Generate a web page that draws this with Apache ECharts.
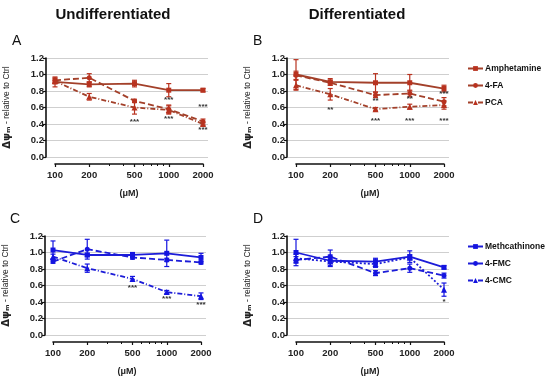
<!DOCTYPE html>
<html><head><meta charset="utf-8">
<script src="https://cdn.jsdelivr.net/npm/echarts@6/dist/echarts.min.js"></script>
<style>html,body{margin:0;padding:0;background:#fff}#c{width:550px;height:380px}</style>
</head><body><div id="c"></div>
<script>
// ---- data ----
const concentrations = [100, 200, 500, 1000, 2000];
const minorTicks = [300, 400, 600, 700, 800, 900];
const yTicks = [0, 0.2, 0.4, 0.6, 0.8, 1.0, 1.2];
const groupAmph = ['Amphetamine', '4-FA', 'PCA'];
const groupCath = ['Methcathinone', '4-FMC', '4-CMC'];

// Panel A (undifferentiated, amphetamines)
const A_amph = [0.91, 0.88, 0.89, 0.81, 0.81];
const A_4fa  = [0.93, 0.96, 0.68, 0.58, 0.43];
const A_pca  = [0.92, 0.73, 0.60, 0.57, 0.40];
const A_amph_err = [0.06, 0.03, 0.04, 0.08, 0.02];
const A_4fa_err  = [0.03, 0.05, 0.02, 0.05, 0.03];
const A_pca_err  = [0.03, 0.04, 0.08, 0.05, 0.02];
const A_stars = [[500, 0.43, '***'], [1000, 0.69, '***'], [1000, 0.46, '***'], [2000, 0.61, '***'], [2000, 0.33, '***']];

// Panel B (differentiated, amphetamines)
const B_amph = [1.00, 0.91, 0.90, 0.90, 0.83];
const B_4fa  = [0.99, 0.90, 0.75, 0.77, 0.67];
const B_pca  = [0.87, 0.76, 0.58, 0.61, 0.63];
const B_amph_err = [0.18, 0.04, 0.11, 0.10, 0.04];
const B_4fa_err  = [0.05, 0.03, 0.03, 0.04, 0.05];
const B_pca_err  = [0.06, 0.07, 0.02, 0.03, 0.05];
const B_stars = [[200, 0.57, '**'], [500, 0.68, '**'], [1000, 0.70, '**'], [500, 0.44, '***'], [1000, 0.44, '***'], [2000, 0.77, '***'], [2000, 0.44, '***']];

// Panel C (undifferentiated, cathinones)
const C_meth = [1.03, 0.97, 0.97, 0.99, 0.94];
const C_4fmc = [0.89, 1.04, 0.94, 0.91, 0.88];
const C_4cmc = [0.95, 0.81, 0.68, 0.52, 0.47];
const C_meth_err = [0.11, 0.02, 0.03, 0.16, 0.05];
const C_4fmc_err = [0.02, 0.12, 0.02, 0.02, 0.02];
const C_4cmc_err = [0.03, 0.05, 0.03, 0.02, 0.04];
const C_stars = [[500, 0.57, '***'], [1000, 0.44, '***'], [2000, 0.37, '***']];

// Panel D (differentiated, cathinones)
const D_meth = [1.00, 0.90, 0.89, 0.95, 0.82];
const D_4fmc = [0.91, 0.95, 0.75, 0.81, 0.72];
const D_4cmc = [0.93, 0.89, 0.86, 0.94, 0.55];
const D_meth_err = [0.16, 0.07, 0.04, 0.07, 0.02];
const D_4fmc_err = [0.04, 0.08, 0.03, 0.05, 0.03];
const D_4cmc_err = [0.05, 0.05, 0.04, 0.03, 0.08];
const D_stars = [[2000, 0.40, '*']];

// ---- styling ----
const BROWN = '#a3402a', BROWN_M = '#b8321f';
const BLUE = '#1c1cd8', BLUE_M = '#1414e0';
const FONT = 'Liberation Sans, Arial, Helvetica, sans-serif';

const panels = [
  {letter: 'A', dx: 0,   dy: 0,   names: groupAmph, vals: [A_amph, A_4fa, A_pca], errs: [A_amph_err, A_4fa_err, A_pca_err], stars: A_stars, line: BROWN, mark: BROWN_M, dash3: [5, 2, 1, 2]},
  {letter: 'B', dx: 241, dy: 0,   names: groupAmph, vals: [B_amph, B_4fa, B_pca], errs: [B_amph_err, B_4fa_err, B_pca_err], stars: B_stars, line: BROWN, mark: BROWN_M, dash3: [5, 2, 1, 2]},
  {letter: 'C', dx: -2,  dy: 178, names: groupCath, vals: [C_meth, C_4fmc, C_4cmc], errs: [C_meth_err, C_4fmc_err, C_4cmc_err], stars: C_stars, line: BLUE, mark: BLUE_M, dash3: [5, 2, 1, 2]},
  {letter: 'D', dx: 241, dy: 178, names: groupCath, vals: [D_meth, D_4fmc, D_4cmc], errs: [D_meth_err, D_4fmc_err, D_4cmc_err], stars: D_stars, line: BLUE, mark: BLUE_M, dash3: [2, 2]}
];
const symbols = ['rect', 'circle', 'triangle'];
const symSizes = [5, 5, 6];
const dashTypes = ['solid', [6, 3], null];

const grid = [], xAxis = [], yAxis = [], series = [], graphic = [];

panels.forEach((p, i) => {
  const top = 58 + p.dy, h = 99;
  grid.push({left: 46 + p.dx, top: top, width: 162, height: h});
  grid.push({left: 55 + p.dx, top: top, width: 148, height: h});
  const gDisp = 2 * i, gData = 2 * i + 1;
  // display x (hidden)
  xAxis.push({type: 'value', gridIndex: gDisp, show: false, min: 0, max: 1});
  // data x (log)
  xAxis.push({
    type: 'log', logBase: 10, gridIndex: gData, position: 'bottom', min: 100, max: 2000, offset: 7,
    axisLine: {show: true, onZero: false, lineStyle: {color: '#111', width: 1.6}},
    axisTick: {show: true, length: 3, customValues: concentrations, lineStyle: {color: '#111', width: 1.2}},
    axisLabel: {show: true, customValues: concentrations, margin: 6, fontSize: 9.5, fontWeight: 'bold', color: '#222', fontFamily: FONT, formatter: v => String(Math.round(v))},
    splitLine: {show: false}, minorTick: {show: false},
    name: '(μM)', nameLocation: 'middle', nameGap: 25,
    nameTextStyle: {fontSize: 9, fontWeight: 'bold', color: '#222', fontFamily: FONT},
    z: 10
  });
  // minor ticks
  xAxis.push({
    type: 'log', logBase: 10, gridIndex: gData, position: 'bottom', min: 100, max: 2000, offset: 7,
    axisLine: {show: false, onZero: false},
    axisTick: {show: true, length: 2, customValues: minorTicks, lineStyle: {color: '#111', width: 1}},
    axisLabel: {show: false}, splitLine: {show: false}
  });
  yAxis.push({
    type: 'value', gridIndex: gDisp, min: 0, max: 1.2, interval: 0.2,
    axisLine: {show: true, onZero: false, lineStyle: {color: '#111', width: 1.6}},
    axisTick: {show: true, length: 3, lineStyle: {color: '#111', width: 1.2}},
    axisLabel: {margin: 2, fontSize: 9.5, fontWeight: 'bold', color: '#222', fontFamily: FONT, formatter: v => v.toFixed(1)},
    splitLine: {show: true, lineStyle: {color: '#cfcfcf', width: 1}},
    name: '{a|Δψₘ}{c| - relative to Ctrl}', nameLocation: 'middle', nameRotate: 90, nameGap: 34,
    nameTextStyle: {rich: {a: {fontSize: 10, fontWeight: 'bold', color: '#222', fontFamily: 'DejaVu Sans'}, c: {fontSize: 8.5, color: '#222', fontFamily: FONT}}}
  });
  yAxis.push({type: 'value', gridIndex: gData, min: 0, max: 1.2, show: false});

  const xi = 3 * i + 1, yi = 2 * i + 1;
  p.names.forEach((name, k) => {
    const dt = k === 2 ? p.dash3 : dashTypes[k];
    series.push({
      type: 'line', name: name, xAxisIndex: xi, yAxisIndex: yi, clip: false,
      data: concentrations.map((c, j) => [c, p.vals[k][j]]),
      symbol: symbols[k], symbolSize: symSizes[k], showSymbol: true,
      lineStyle: {color: p.line, width: 1.8, type: dt},
      itemStyle: {color: p.mark},
      z: 3 + k
    });
    const col = p.mark;
    series.push({
      type: 'custom', name: name, xAxisIndex: xi, yAxisIndex: yi, clip: false,
      data: concentrations.map((c, j) => [c, p.vals[k][j] - p.errs[k][j], p.vals[k][j] + p.errs[k][j]]),
      encode: {x: 0, y: [1, 2]},
      renderItem: (params, api) => {
        const x = api.value(0);
        const t = api.coord([x, api.value(2)]), b = api.coord([x, api.value(1)]);
        const w = 2.5, st = {stroke: col, lineWidth: 1.2};
        return {type: 'group', children: [
          {type: 'line', shape: {x1: t[0], y1: t[1], x2: b[0], y2: b[1]}, style: st},
          {type: 'line', shape: {x1: t[0] - w, y1: t[1], x2: t[0] + w, y2: t[1]}, style: st},
          {type: 'line', shape: {x1: b[0] - w, y1: b[1], x2: b[0] + w, y2: b[1]}, style: st}
        ]};
      },
      z: 2
    });
  });
  const stars = p.stars;
  series.push({
    type: 'custom', xAxisIndex: xi, yAxisIndex: yi, clip: false,
    data: stars.map(s => [s[0], s[1]]),
    encode: {x: 0, y: 1},
    renderItem: (params, api) => {
      const pt = api.coord([api.value(0), api.value(1)]);
      return {type: 'text', x: pt[0], y: pt[1], style: {text: stars[params.dataIndex][2], align: 'center', verticalAlign: 'middle', fontSize: 8, fontWeight: 'bold', fill: '#333', fontFamily: FONT}};
    },
    z: 5
  });
  graphic.push({type: 'text', left: 12 + p.dx, top: 34 + p.dy, style: {text: p.letter, fontSize: 14, fill: '#111', fontFamily: FONT}});
});

graphic.push({type: 'text', x: 113, y: 15, style: {text: 'Undifferentiated', align: 'center', verticalAlign: 'middle', fontSize: 15, fontWeight: 'bold', fill: '#111', fontFamily: FONT}});
graphic.push({type: 'text', x: 357, y: 15, style: {text: 'Differentiated', align: 'center', verticalAlign: 'middle', fontSize: 15, fontWeight: 'bold', fill: '#111', fontFamily: FONT}});

const legendCommon = {orient: 'vertical', left: 462, itemWidth: 15, itemHeight: 6, itemGap: 8,
  textStyle: {fontSize: 8.5, fontWeight: 'bold', color: '#111', fontFamily: FONT, padding: [0, 0, 0, -3]}};
const legend = [
  Object.assign({}, legendCommon, {top: 59, data: groupAmph}),
  Object.assign({}, legendCommon, {top: 237, data: groupCath})
];

const chart = echarts.init(document.getElementById('c'), null, {renderer: 'canvas'});
chart.setOption({animation: false, backgroundColor: '#fff', grid, xAxis, yAxis, series, legend, graphic});
</script>
</body></html>
